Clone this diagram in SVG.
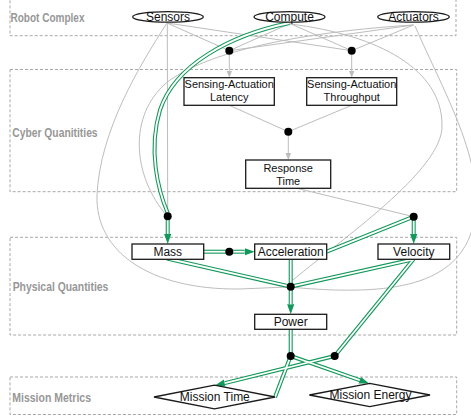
<svg xmlns="http://www.w3.org/2000/svg" width="471" height="416" viewBox="0 0 471 416">
  <style>
    .cluster { fill: none; stroke: #a8a8a8; stroke-width: 1; stroke-dasharray: 3 2; }
    .clabel { font-family: "Liberation Sans Narrow", "Liberation Sans", Arial, sans-serif; font-weight: bold; font-size: 12px; fill: #979797; }
    .lbl { font-family: "Liberation Sans", Arial, Helvetica, sans-serif; font-size: 12px; fill: #111; text-anchor: middle; }
    .lbl2 { font-family: "Liberation Sans", Arial, Helvetica, sans-serif; font-size: 11px; fill: #111; text-anchor: middle; }
    .shape { fill: #fff; stroke: #1a1a1a; stroke-width: 1.3; }
    .dot { fill: #000; }
    .gray { fill: none; stroke: #bdbdbd; stroke-width: 1; }
    .grayA { marker-end: url(#arrowGray); }
    .g { fill: none; stroke: #12985a; stroke-width: 4; stroke-linecap: butt; }
    .gA { marker-end: url(#arrowGreen); }
    .gw { fill: none; stroke: #fff; stroke-width: 1.8; stroke-linecap: butt; }
  </style>
  <defs>
    <marker id="arrowGreen" markerUnits="userSpaceOnUse" viewBox="0 -5 11 10" markerWidth="11" markerHeight="10" refX="0" refY="0" orient="auto">
      <path d="M0,-3.6 L10,0 L0,3.6 z" fill="#12985a"/>
    </marker>
    <marker id="arrowGray" markerUnits="userSpaceOnUse" viewBox="0 -4 8 8" markerWidth="8" markerHeight="8" refX="0" refY="0" orient="auto">
      <path d="M0,-2.8 L7,0 L0,2.8 z" fill="#bdbdbd"/>
    </marker>
  </defs>

  <rect width="471" height="416" fill="#fff"/>

  <!-- clusters -->
  <g id="cluster-robot">
    <rect class="cluster" x="10" y="-5" width="446" height="40.7"/>
    <text class="clabel" x="10.5" y="21.5" textLength="74" lengthAdjust="spacingAndGlyphs">Robot Complex</text>
  </g>
  <g id="cluster-cyber">
    <rect class="cluster" x="10" y="69.5" width="446.7" height="122.2"/>
    <text class="clabel" x="12.3" y="136.7" textLength="85.3" lengthAdjust="spacingAndGlyphs">Cyber Quanitities</text>
  </g>
  <g id="cluster-physical">
    <rect class="cluster" x="10" y="237.3" width="446.7" height="97.7"/>
    <text class="clabel" x="12.7" y="291" textLength="95.7" lengthAdjust="spacingAndGlyphs">Physical Quantities</text>
  </g>
  <g id="cluster-mission">
    <rect class="cluster" x="10" y="377" width="446.7" height="37.5"/>
    <text class="clabel" x="12.3" y="401.7" textLength="78.7" lengthAdjust="spacingAndGlyphs">Mission Metrics</text>
  </g>

  <!-- connectors -->
  <g id="connectors">
    <!-- gray dependencies -->
    <path class="gray" d="M167,23 L229.3,50.7"/>
    <path class="gray" d="M167,23 L351.7,50.7"/>
    <path class="gray" d="M290,23.5 L229.3,50.7"/>
    <path class="gray" d="M290,23.5 L351.7,50.7"/>
    <path class="gray" d="M413.5,25 L229.3,50.7"/>
    <path class="gray" d="M413.5,25 L351.7,50.7"/>
    <path class="gray" d="M167.3,23 L167.7,212"/>
    <path class="gray" d="M167,23 C140,65 100,130 97,195 C95,252 150,290 240,289 L287,287"/>
    <path class="gray" d="M413.5,25 C330,30 220,45 170,80 C130,110 130,170 164.5,213"/>
    <path class="gray" d="M290,24 C380,35 442,70 442,125 C444,170 340,240 287.5,284.5"/>
    <path class="gray" d="M415,26 C445,95 490,170 472,230 C454,290 380,295 294.5,287.5"/>
    <path class="gray grayA" d="M229.3,55 L229.3,70.7"/>
    <path class="gray grayA" d="M351.7,55 L351.7,70.7"/>
    <path class="gray" d="M229.3,105.3 L288.3,131.7"/>
    <path class="gray" d="M351.7,105.3 L288.3,131.7"/>
    <path class="gray grayA" d="M288.3,135 L288.3,153"/>
    <path class="gray" d="M297,188.3 L413.7,216.7"/>

    <!-- green paths: outer band -->
    <path class="g" d="M289.5,23 C230,35 175,65 160,110 C148,150 158,190 167.7,213"/>
    <path class="g gA" d="M167.7,219 L167.7,234"/>
    <path class="g" d="M204,251.7 L229.3,251.7"/>
    <path class="g gA" d="M232,251.7 L244.7,251.7"/>
    <path class="g" d="M167,258.5 L290.7,286.7"/>
    <path class="g" d="M290.7,259.3 L290.7,286.7"/>
    <path class="g" d="M326.7,251.7 L413.7,216.7"/>
    <path class="g gA" d="M413.7,219 L413.7,234"/>
    <path class="g" d="M413.5,259.3 L290.7,286.7"/>
    <path class="g gA" d="M290.7,289 L290.7,304.3"/>
    <path class="g" d="M290.7,329.3 L290.7,356"/>
    <path class="g" d="M413.5,259.3 L334.7,356"/>
    <path class="g gA" d="M334.7,356 L224.7,383.1"/>
    <path class="g" d="M275,397.3 L290.7,356"/>
    <path class="g gA" d="M290.7,356 L359.6,380.2"/>
    <!-- green paths: inner white line -->
    <path class="gw" d="M289.5,23 C230,35 175,65 160,110 C148,150 158,190 167.7,213"/>
    <path class="gw" d="M167.7,219 L167.7,234"/>
    <path class="gw" d="M204,251.7 L229.3,251.7"/>
    <path class="gw" d="M232,251.7 L244.7,251.7"/>
    <path class="gw" d="M167,258.5 L290.7,286.7"/>
    <path class="gw" d="M290.7,259.3 L290.7,286.7"/>
    <path class="gw" d="M326.7,251.7 L413.7,216.7"/>
    <path class="gw" d="M413.7,219 L413.7,234"/>
    <path class="gw" d="M413.5,259.3 L290.7,286.7"/>
    <path class="gw" d="M290.7,289 L290.7,304.3"/>
    <path class="gw" d="M290.7,329.3 L290.7,356"/>
    <path class="gw" d="M413.5,259.3 L334.7,356"/>
    <path class="gw" d="M334.7,356 L224.7,383.1"/>
    <path class="gw" d="M275,397.3 L290.7,356"/>
    <path class="gw" d="M290.7,356 L359.6,380.2"/>
  </g>

  <!-- junction points -->
  <g id="j-latency"><circle class="dot" cx="229.3" cy="50.7" r="4"/></g>
  <g id="j-throughput"><circle class="dot" cx="351.7" cy="50.7" r="4"/></g>
  <g id="j-response"><circle class="dot" cx="288.3" cy="131.7" r="4"/></g>
  <g id="j-mass"><circle class="dot" cx="167.7" cy="216.3" r="4"/></g>
  <g id="j-velocity"><circle class="dot" cx="413.7" cy="216.7" r="4"/></g>
  <g id="j-acceleration"><circle class="dot" cx="229.3" cy="251.7" r="4"/></g>
  <g id="j-power"><circle class="dot" cx="290.7" cy="286.7" r="4"/></g>
  <g id="j-energy"><circle class="dot" cx="290.7" cy="356" r="4"/></g>
  <g id="j-time"><circle class="dot" cx="334.7" cy="356" r="4"/></g>

  <!-- nodes -->
  <g id="sensors">
    <ellipse class="shape" cx="168" cy="16.9" rx="35.3" ry="5.2"/>
    <text class="lbl" x="168" y="21">Sensors</text>
  </g>
  <g id="compute">
    <ellipse class="shape" cx="289.5" cy="16.9" rx="35.5" ry="5.2"/>
    <text class="lbl" x="289.5" y="21">Compute</text>
  </g>
  <g id="actuators">
    <ellipse class="shape" cx="413.5" cy="16.9" rx="35.8" ry="5.2"/>
    <text class="lbl" x="413.5" y="21">Actuators</text>
  </g>
  <g id="latency">
    <rect class="shape" x="184" y="77.7" width="90.3" height="27.6"/>
    <text class="lbl2" x="229.2" y="88">Sensing-Actuation</text>
    <text class="lbl2" x="229.2" y="101.3">Latency</text>
  </g>
  <g id="throughput">
    <rect class="shape" x="306.7" y="77.7" width="90" height="27.6"/>
    <text class="lbl2" x="351.7" y="88">Sensing-Actuation</text>
    <text class="lbl2" x="351.7" y="101.3">Throughput</text>
  </g>
  <g id="response-time">
    <rect class="shape" x="245.7" y="160" width="85" height="28.3"/>
    <text class="lbl2" x="288.2" y="172">Response</text>
    <text class="lbl2" x="288.2" y="184.7">Time</text>
  </g>
  <g id="mass">
    <rect class="shape" x="132" y="244" width="71.7" height="15.3"/>
    <text class="lbl" x="167.8" y="256">Mass</text>
  </g>
  <g id="acceleration">
    <rect class="shape" x="254.7" y="244" width="72" height="15.3"/>
    <text class="lbl" x="290.7" y="256">Acceleration</text>
  </g>
  <g id="velocity">
    <rect class="shape" x="378" y="244" width="71.7" height="15.3"/>
    <text class="lbl" x="413.8" y="256">Velocity</text>
  </g>
  <g id="power">
    <rect class="shape" x="254.7" y="314.3" width="72" height="15"/>
    <text class="lbl" x="290.7" y="325.5">Power</text>
  </g>
  <g id="mission-time">
    <polygon class="shape" points="154,397 214.5,385.2 275,397 214.5,408.8"/>
    <text class="lbl" x="214.8" y="401">Mission Time</text>
  </g>
  <g id="mission-energy">
    <polygon class="shape" points="309.4,395 369.7,383.4 430,395 369.7,406.6"/>
    <text class="lbl" x="370.5" y="399">Mission Energy</text>
  </g>
</svg>
